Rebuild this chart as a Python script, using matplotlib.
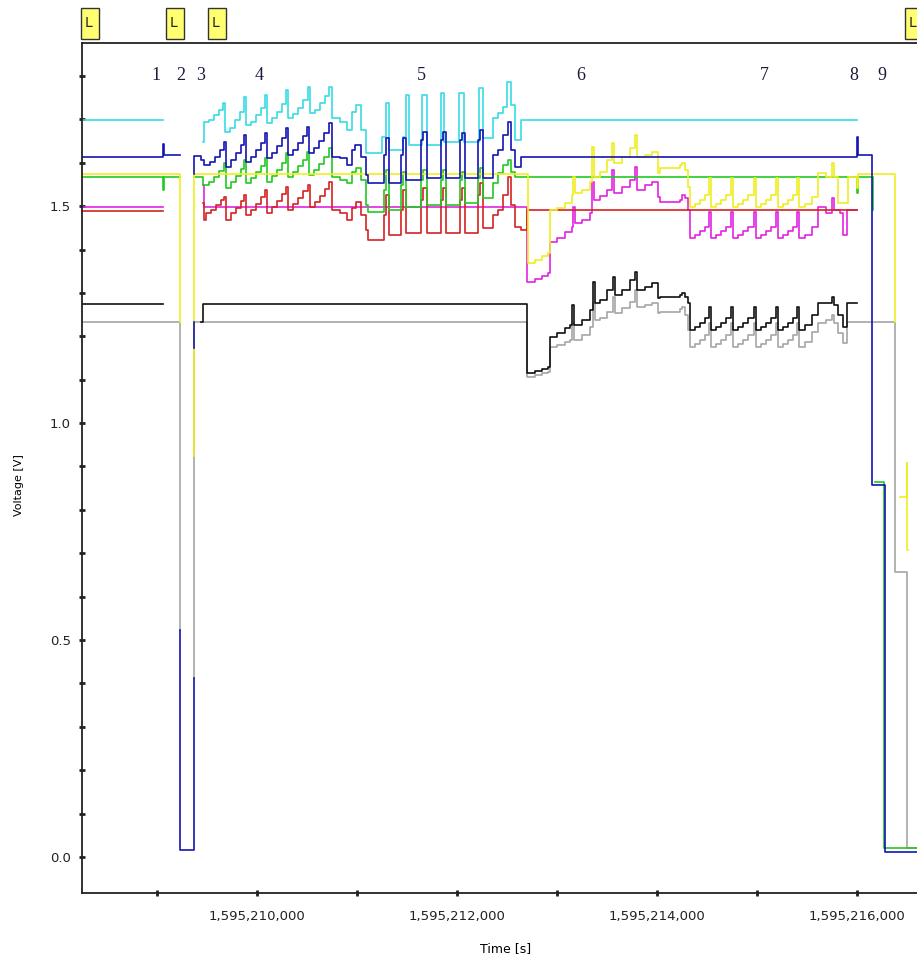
import matplotlib
matplotlib.use("Agg")
import matplotlib.pyplot as plt
import matplotlib.transforms as mtransforms
from matplotlib.patches import Rectangle

nan = float("nan")
t0 = 1595208000  # time offsets below are seconds after t0

# (time offset [s], voltage [V]); nan breaks the line
cyan = [(250, 1.698), (1060, nan), (1460, 1.647), (1470, 1.694), (1520, 1.698), (1570, 1.710),
        (1620, 1.721), (1660, 1.737), (1680, 1.670), (1730, 1.680), (1780, 1.698), (1830, 1.717),
        (1870, 1.751), (1890, 1.687), (1940, 1.694), (1990, 1.710), (2040, 1.726), (2080, 1.756),
        (2100, 1.691), (2150, 1.703), (2200, 1.717), (2250, 1.735), (2290, 1.767), (2310, 1.703),
        (2360, 1.712), (2410, 1.726), (2460, 1.744), (2510, 1.774), (2530, 1.714), (2580, 1.721),
        (2630, 1.737), (2680, 1.753), (2720, 1.774), (2750, 1.703), (2830, 1.694), (2900, 1.675),
        (2950, 1.717), (2990, 1.733), (3040, 1.675), (3090, 1.622), (3250, 1.659), (3290, 1.737),
        (3320, 1.629), (3460, 1.659), (3490, 1.756), (3520, 1.641), (3650, 1.756), (3700, 1.641),
        (3840, 1.760), (3870, 1.647), (4020, 1.760), (4070, 1.647), (4220, 1.772), (4260, 1.657),
        (4360, 1.703), (4410, 1.714), (4460, 1.728), (4500, 1.786), (4540, 1.733), (4580, 1.652),
        (4640, 1.698), (8000, nan)]

blue = [(250, 1.613), (1060, 1.643), (1070, 1.618), (1230, nan),
        (1230, 0.523), (1230, 0.016), (1370, 0.412), (1370, nan),
        (1370, 1.173), (1370, 1.233), (1370, nan),
        (1370, 1.574), (1370, 1.615), (1440, 1.606), (1470, 1.594),
        (1530, 1.601), (1580, 1.613), (1630, 1.629), (1670, 1.647), (1690, 1.590),
        (1740, 1.606), (1790, 1.622), (1840, 1.641), (1870, 1.664), (1890, 1.601),
        (1940, 1.613), (1990, 1.629), (2040, 1.645), (2080, 1.668), (2100, 1.611),
        (2150, 1.622), (2200, 1.638), (2250, 1.657), (2290, 1.680), (2310, 1.618),
        (2360, 1.629), (2410, 1.645), (2460, 1.661), (2500, 1.682), (2520, 1.622),
        (2570, 1.634), (2620, 1.650), (2670, 1.668), (2720, 1.691), (2750, 1.613),
        (2830, 1.611), (2900, 1.594), (2950, 1.629), (2980, 1.641), (3040, 1.613), (3090, 1.571),
        (3110, 1.553), (3270, 1.618), (3290, 1.657), (3320, 1.553), (3440, 1.618), (3460, 1.657),
        (3490, 1.560), (3640, 1.652), (3660, 1.670), (3700, 1.565), (3840, 1.652), (3860, 1.670),
        (3890, 1.565), (4030, 1.652), (4050, 1.668), (4080, 1.565), (4210, 1.652), (4230, 1.675),
        (4260, 1.565), (4360, 1.618), (4410, 1.629), (4460, 1.664), (4510, 1.694), (4540, 1.629),
        (4580, 1.590), (4640, 1.613), (8000, 1.659), (8010, 1.618), (8150, 0.857), (8280, 0.012),
        (8600, 0.012)]

green = [(250, 1.567), (1060, 1.537), (1070, 1.567), (1230, nan), (1370, 1.567), (1460, 1.548),
         (1520, 1.555), (1570, 1.567), (1620, 1.581), (1670, 1.599), (1690, 1.541),
         (1740, 1.555), (1790, 1.569), (1840, 1.585), (1870, 1.606), (1890, 1.553),
         (1940, 1.565), (1990, 1.578), (2040, 1.592), (2080, 1.611), (2100, 1.555),
         (2150, 1.569), (2200, 1.583), (2250, 1.599), (2290, 1.622), (2310, 1.567),
         (2360, 1.578), (2410, 1.592), (2460, 1.606), (2500, 1.624), (2520, 1.571),
         (2570, 1.583), (2620, 1.597), (2670, 1.613), (2720, 1.634), (2750, 1.567),
         (2830, 1.560), (2900, 1.553), (2950, 1.578), (2990, 1.588), (3040, 1.560), (3090, 1.502),
         (3110, 1.486), (3270, 1.537), (3290, 1.583), (3320, 1.491), (3440, 1.548), (3460, 1.578),
         (3490, 1.498), (3640, 1.560), (3660, 1.583), (3700, 1.502), (3840, 1.560), (3860, 1.583),
         (3890, 1.502), (4030, 1.560), (4050, 1.578), (4080, 1.507), (4210, 1.565), (4230, 1.588),
         (4260, 1.518), (4360, 1.553), (4410, 1.576), (4460, 1.594), (4510, 1.606), (4540, 1.578),
         (4580, 1.567), (8000, 1.530), (8010, 1.567), (8160, 1.491), (8160, nan),
         (8180, 0.864), (8270, 0.021), (8600, 0.021)]

red = [(250, 1.488), (1060, nan), (1460, 1.507), (1470, 1.468), (1490, 1.484),
       (1540, 1.491), (1590, 1.502), (1640, 1.514), (1670, 1.521), (1690, 1.468),
       (1740, 1.484), (1790, 1.495), (1840, 1.512), (1870, 1.525), (1890, 1.479),
       (1940, 1.491), (1990, 1.505), (2040, 1.521), (2080, 1.537), (2100, 1.484),
       (2150, 1.498), (2200, 1.512), (2250, 1.528), (2290, 1.544), (2310, 1.491),
       (2360, 1.505), (2410, 1.518), (2460, 1.535), (2510, 1.548), (2530, 1.498),
       (2580, 1.509), (2630, 1.523), (2680, 1.539), (2720, 1.555), (2750, 1.491),
       (2830, 1.484), (2900, 1.468), (2950, 1.495), (2990, 1.509), (3040, 1.479), (3090, 1.445),
       (3110, 1.422), (3270, 1.479), (3290, 1.525), (3320, 1.433), (3440, 1.491), (3460, 1.537),
       (3490, 1.438), (3640, 1.514), (3660, 1.541), (3700, 1.438), (3840, 1.514), (3860, 1.541),
       (3890, 1.438), (4030, 1.514), (4050, 1.541), (4080, 1.438), (4210, 1.525), (4230, 1.553),
       (4260, 1.449), (4360, 1.479), (4410, 1.491), (4460, 1.525), (4510, 1.567), (4540, 1.502),
       (4580, 1.452), (4640, 1.445), (4700, 1.491), (8000, nan)]

magenta = [(250, 1.498), (1060, nan), (1460, 1.548), (1470, 1.498), (4700, 1.325), (4780, 1.332),
           (4850, 1.339), (4910, 1.346), (4930, 1.417), (5000, 1.426), (5080, 1.440), (5150, 1.452),
           (5160, 1.498), (5180, 1.461), (5250, 1.468), (5330, 1.484), (5350, 1.555), (5370, 1.514),
           (5430, 1.523), (5500, 1.537), (5550, 1.583), (5570, 1.530), (5650, 1.544), (5730, 1.560),
           (5780, 1.590), (5800, 1.537), (5880, 1.548), (5950, 1.555), (6010, 1.521), (6030, 1.509),
           (6230, 1.514), (6250, 1.525), (6280, 1.518), (6310, 1.491), (6330, 1.426),
           (6380, 1.433), (6430, 1.442), (6480, 1.452), (6520, 1.486), (6540, 1.426),
           (6590, 1.433), (6640, 1.442), (6690, 1.452), (6740, 1.486), (6760, 1.426),
           (6810, 1.433), (6860, 1.442), (6910, 1.452), (6970, 1.486), (6990, 1.426),
           (7040, 1.433), (7090, 1.442), (7140, 1.452), (7190, 1.486), (7210, 1.426),
           (7260, 1.433), (7310, 1.442), (7360, 1.452), (7400, 1.486), (7420, 1.426),
           (7480, 1.433), (7550, 1.452), (7610, 1.498), (7690, 1.484), (7750, 1.518), (7770, 1.491),
           (7830, 1.484), (7860, 1.433), (7900, 1.491), (8000, nan)]

yellow = [(250, 1.574), (1230, 1.233), (1230, nan), (1370, 0.924), (1370, 1.574), (4710, 1.369),
          (4780, 1.376), (4850, 1.385), (4910, 1.392), (4930, 1.491), (5000, 1.495), (5080, 1.507),
          (5150, 1.525), (5160, 1.567), (5180, 1.530), (5250, 1.537), (5330, 1.555), (5350, 1.636),
          (5370, 1.567), (5430, 1.578), (5500, 1.606), (5550, 1.645), (5570, 1.599), (5650, 1.613),
          (5730, 1.634), (5780, 1.664), (5800, 1.613), (5880, 1.618), (5950, 1.624), (6010, 1.576),
          (6030, 1.588), (6230, 1.594), (6250, 1.599), (6280, 1.583), (6310, 1.544), (6330, 1.498),
          (6380, 1.505), (6430, 1.514), (6480, 1.525), (6520, 1.565), (6540, 1.498),
          (6590, 1.505), (6640, 1.514), (6690, 1.525), (6740, 1.565), (6760, 1.498),
          (6810, 1.505), (6860, 1.514), (6910, 1.525), (6970, 1.565), (6990, 1.498),
          (7040, 1.505), (7090, 1.514), (7140, 1.525), (7190, 1.565), (7210, 1.498),
          (7260, 1.505), (7310, 1.514), (7360, 1.525), (7400, 1.565), (7420, 1.498),
          (7480, 1.505), (7550, 1.521), (7610, 1.576), (7690, 1.567), (7750, 1.599), (7770, 1.567),
          (7810, 1.507), (7890, 1.507), (7910, 1.567), (8000, 1.541), (8010, 1.574), (8380, 1.233),
          (8380, nan), (8430, 0.829), (8500, 0.908), (8500, 0.707), (8510, nan)]

black = [(250, 1.274), (1060, nan), (1440, 1.233), (1460, 1.274), (4700, 1.115), (4780, 1.120),
         (4850, 1.124), (4910, 1.129), (4930, 1.198), (5000, 1.207), (5080, 1.219), (5130, 1.226),
         (5150, 1.272), (5170, 1.226), (5250, 1.237), (5330, 1.260), (5360, 1.325), (5380, 1.276),
         (5430, 1.283), (5500, 1.306), (5560, 1.336), (5580, 1.295), (5650, 1.306), (5730, 1.329),
         (5780, 1.348), (5800, 1.306), (5880, 1.313), (5950, 1.323), (6010, 1.288), (6030, 1.290),
         (6230, 1.295), (6250, 1.300), (6280, 1.290), (6310, 1.276), (6330, 1.214),
         (6380, 1.221), (6430, 1.230), (6480, 1.242), (6520, 1.267), (6540, 1.214),
         (6590, 1.221), (6640, 1.230), (6690, 1.242), (6740, 1.267), (6760, 1.214),
         (6810, 1.221), (6860, 1.230), (6910, 1.242), (6970, 1.267), (6990, 1.214),
         (7040, 1.221), (7090, 1.230), (7140, 1.242), (7190, 1.267), (7210, 1.214),
         (7260, 1.221), (7310, 1.230), (7360, 1.242), (7400, 1.267), (7420, 1.214),
         (7480, 1.226), (7550, 1.249), (7610, 1.276), (7690, 1.276), (7750, 1.290), (7770, 1.272),
         (7810, 1.249), (7860, 1.221), (7900, 1.276), (8000, nan)]

gray = [(250, 1.233), (1230, 0.523), (1230, nan), (1370, 0.412), (1370, 1.233), (4700, 1.106),
        (4780, 1.111), (4850, 1.115), (4910, 1.118), (4930, 1.175), (5000, 1.180), (5080, 1.187),
        (5130, 1.191), (5150, 1.230), (5170, 1.191), (5250, 1.203), (5330, 1.221), (5360, 1.276),
        (5380, 1.237), (5430, 1.242), (5500, 1.256), (5560, 1.290), (5580, 1.253), (5650, 1.265),
        (5730, 1.279), (5780, 1.306), (5800, 1.267), (5880, 1.272), (5950, 1.276), (6010, 1.253),
        (6030, 1.256), (6230, 1.263), (6250, 1.267), (6280, 1.249), (6310, 1.214), (6330, 1.175),
        (6380, 1.182), (6430, 1.191), (6480, 1.203), (6520, 1.230), (6540, 1.175),
        (6590, 1.182), (6640, 1.191), (6690, 1.203), (6740, 1.230), (6760, 1.175),
        (6810, 1.182), (6860, 1.191), (6910, 1.203), (6970, 1.230), (6990, 1.175),
        (7040, 1.182), (7090, 1.191), (7140, 1.203), (7190, 1.230), (7210, 1.175),
        (7260, 1.182), (7310, 1.191), (7360, 1.203), (7400, 1.230), (7420, 1.175),
        (7480, 1.187), (7550, 1.210), (7610, 1.230), (7690, 1.237), (7750, 1.249), (7770, 1.230),
        (7810, 1.207), (7860, 1.184), (7900, 1.233), (8380, 0.657), (8500, 0.021), (8600, 0.021)]

# phase numbers written inside the plot, and "L" event markers above it
phase_labels = ["1", "2", "3", "4", "5", "6", "7", "8", "9"]
phase_t = [990, 1240, 1440, 2020, 3640, 5240, 7070, 7970, 8250]
phase_v = 1.802
marker_t = [330, 1180, 1600, 8570]

x_major = [2000, 4000, 6000, 8000]
x_minor = [1000, 3000, 5000, 7000]
y_major = [0.0, 0.5, 1.0, 1.5]
y_minor = [0.1, 0.2, 0.3, 0.4, 0.6, 0.7, 0.8, 0.9, 1.1, 1.2, 1.3, 1.4, 1.6, 1.7, 1.8]

# drawing order: first is bottom
traces = [
    (gray, "#a6a6a6"),
    (black, "#111111"),
    (magenta, "#e024e0"),
    (red, "#d42222"),
    (green, "#22c822"),
    (cyan, "#38dce4"),
    (yellow, "#eeee20"),
    (blue, "#1414b4"),
]

plt.rcParams["font.family"] = "DejaVu Sans"

fig = plt.figure(figsize=(9.17, 9.61), dpi=100)
ax = fig.add_axes([82 / 917, 68 / 961, 835 / 917, 850 / 961])

for data, color in traces:
    t = [t0 + p[0] for p in data]
    v = [p[1] for p in data]
    ax.plot(t, v, drawstyle="steps-post", color=color, lw=1.2)

ax.set_xlim(t0 + 250, t0 + 8600)
ax.set_ylim(-0.083, 1.876)

ax.set_xticks([t0 + x for x in x_major])
ax.set_xticklabels(["{:,}".format(t0 + x) for x in x_major])
ax.set_xticks([t0 + x for x in x_minor], minor=True)
ax.set_yticks(y_major)
ax.set_yticklabels(["%.1f" % y for y in y_major])
ax.set_yticks(y_minor, minor=True)
ax.tick_params(which="both", direction="inout", length=4, width=2, color="black")
ax.tick_params(axis="x", which="both", pad=10, labelsize=9.5, colors="#222222")
ax.tick_params(axis="y", which="both", pad=6, labelsize=9.5, colors="#222222")

for s in ["left", "bottom", "top"]:
    ax.spines[s].set_linewidth(1.3)
    ax.spines[s].set_color("#222222")
ax.spines["right"].set_visible(False)

ax.set_xlabel("Time [s]", fontsize=9)
ax.set_ylabel("Voltage [V]", fontsize=8)
ax.xaxis.set_label_coords(0.507, -0.058)
ax.yaxis.set_label_coords(-0.07, 0.48)

for lab, t in zip(phase_labels, phase_t):
    ax.text(t0 + t, phase_v, lab, ha="center", va="center", fontsize=13,
            family="Liberation Serif", color="#1a1a3a")

trans = mtransforms.blended_transform_factory(ax.transData, ax.transAxes)
for t in marker_t:
    ax.add_patch(Rectangle((t0 + t - 90, 1.0047), 180, 0.0365, transform=trans,
                           facecolor="#ffff70", edgecolor="#333333", lw=1, clip_on=False))
    ax.text(t0 + t - 15, 1.024, "L", transform=trans, ha="center", va="center",
            fontsize=10, color="#222222", clip_on=False)

fig.savefig("out.png", dpi=100)
